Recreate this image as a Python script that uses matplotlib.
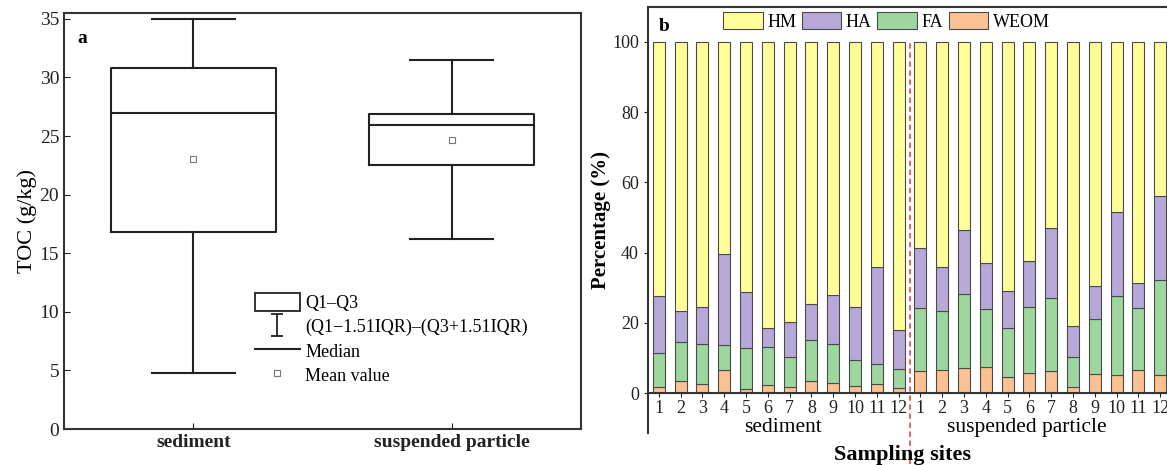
import matplotlib
matplotlib.use('Agg')
import matplotlib.pyplot as plt
import numpy as np
from matplotlib.patches import Patch
from matplotlib.lines import Line2D
from matplotlib.path import Path

plt.rcParams['font.family'] = ['Liberation Serif', 'DejaVu Serif']

# panel a: TOC box statistics (g/kg)
groups = ['sediment', 'suspended particle']
toc_whislo = [4.8, 16.2]
toc_q1 = [16.8, 22.5]
toc_med = [27.0, 25.9]
toc_q3 = [30.8, 26.9]
toc_whishi = [35.0, 31.5]
toc_mean = [23.0, 24.7]

# panel b: fraction percentages, sites 1-12 sediment then 1-12 suspended particle
site_labels = [str(i) for i in range(1, 13)] * 2
weom = [1.7, 3.6, 2.6, 6.6, 1.2, 2.4, 1.7, 3.5, 2.8, 2.2, 2.5, 1.6,
        6.2, 6.6, 7.3, 7.6, 4.7, 5.9, 6.4, 1.9, 5.4, 5.3, 6.6, 5.2]
fa = [9.7, 10.9, 11.5, 7.1, 11.7, 10.9, 8.6, 11.7, 11.3, 7.4, 5.9, 5.3,
      18.0, 16.8, 20.9, 16.3, 14.0, 18.7, 20.6, 8.3, 15.6, 22.4, 17.8, 27.0]
ha = [16.3, 8.9, 10.4, 25.9, 15.8, 5.2, 9.9, 10.1, 13.8, 15.0, 27.6, 11.1,
      17.0, 12.4, 18.2, 13.3, 10.3, 13.1, 20.1, 9.0, 9.5, 24.0, 7.0, 23.9]
hm = [72.3, 76.6, 75.5, 60.4, 71.3, 81.5, 79.8, 74.7, 72.1, 75.4, 64.0, 82.0,
      58.8, 64.2, 53.6, 62.8, 71.0, 62.3, 52.9, 80.8, 69.5, 48.3, 68.6, 43.9]

colors = {'HM': '#ffff99', 'HA': '#b7a8d8', 'FA': '#9dd79d', 'WEOM': '#fbc190'}
edge = '#4a4a4a'


def draw_box(ax):
    stats = []
    for i in range(len(groups)):
        stats.append(dict(whislo=toc_whislo[i], q1=toc_q1[i], med=toc_med[i],
                          q3=toc_q3[i], whishi=toc_whishi[i], mean=toc_mean[i],
                          fliers=[]))
    ax.bxp(stats, positions=[1, 2], widths=0.64, capwidths=0.32, showmeans=True,
           boxprops=dict(color='#222222', lw=1.5),
           whiskerprops=dict(color='#222222', lw=1.5),
           capprops=dict(color='#222222', lw=1.5),
           medianprops=dict(color='#222222', lw=1.5),
           meanprops=dict(marker='s', markersize=4, markerfacecolor='white',
                          markeredgecolor='#777777', markeredgewidth=0.8))
    ax.set_xlim(0.5, 2.5)
    ax.set_ylim(0, 35.5)
    ax.set_yticks(np.arange(0, 36, 5))
    ax.set_xticks([1, 2])
    ax.set_xticklabels(groups, fontweight='bold', fontsize=13)
    ax.tick_params(direction='in', labelsize=14, colors='#222222', length=4)
    ax.set_ylabel('TOC (g/kg)', fontsize=16, labelpad=2)
    for s in ax.spines.values():
        s.set_linewidth(1.5)
        s.set_color('#333333')
    ax.text(0.025, 0.96, 'a', transform=ax.transAxes, fontsize=14,
            fontweight='bold', va='top')

    cap = Path([(-0.5, 1), (0.5, 1), (0, 1), (0, -1), (-0.5, -1), (0.5, -1)],
               [Path.MOVETO, Path.LINETO, Path.MOVETO, Path.LINETO,
                Path.MOVETO, Path.LINETO])
    handles = [
        Patch(facecolor='white', edgecolor='#222222', lw=1.3),
        Line2D([], [], ls='none', marker=cap, markersize=16, color='#222222',
               markeredgewidth=1.3),
        Line2D([], [], color='#222222', lw=1.5),
        Line2D([], [], ls='none', marker='s', markersize=4,
               markerfacecolor='white', markeredgecolor='#777777',
               markeredgewidth=0.8),
    ]
    labels = ['Q1\u2013Q3', '(Q1\u22121.51IQR)\u2013(Q3+1.51IQR)', 'Median', 'Mean value']
    ax.legend(handles, labels, loc='upper left', bbox_to_anchor=(0.355, 0.345),
              frameon=False, fontsize=13, handlelength=2.5, handleheight=1.2,
              handletextpad=0.3, labelspacing=0.27, borderaxespad=0)


def draw_bars(ax):
    x = np.arange(1, len(site_labels) + 1)
    w = 0.55
    bottom = np.zeros(len(x))
    series = [('WEOM', weom), ('FA', fa), ('HA', ha), ('HM', hm)]
    for name, vals in series:
        ax.bar(x, vals, w, bottom=bottom, color=colors[name], edgecolor=edge,
               lw=0.8, label=name)
        bottom += np.array(vals)
    ax.set_xlim(0.5, 24.5)
    ax.set_ylim(-11.3, 109.9)
    ax.set_yticks(np.arange(0, 101, 20))
    ax.set_xticks(x)
    ax.set_xticklabels(site_labels)
    ax.spines['bottom'].set_position(('data', 0))
    ax.spines['right'].set_visible(False)
    for s in ax.spines.values():
        s.set_linewidth(1.5)
        s.set_color('#333333')
    ax.tick_params(axis='x', direction='out', length=3, labelsize=13,
                   colors='#222222', pad=2)
    ax.tick_params(axis='y', direction='out', length=3, labelsize=13,
                   colors='#222222')
    ax.vlines(12.5, -20, 100, colors='#e05a5a', linestyles=(0, (3, 2)), lw=1.3,
              clip_on=False)
    ax.text(6.7, -6.9, 'sediment', ha='center', va='top', fontsize=15.5)
    ax.text(17.9, -6.9, 'suspended particle', ha='center', va='top', fontsize=15.5)
    ax.text(12.2, -19.0, 'Sampling sites', ha='center', va='baseline',
            fontsize=16, fontweight='bold')
    ax.set_ylabel('Percentage (%)', fontsize=15, fontweight='bold', labelpad=1)
    ax.text(0.02, 0.975, 'b', transform=ax.transAxes, fontsize=14,
            fontweight='bold', va='top')
    h, l = ax.get_legend_handles_labels()
    ax.legend(h[::-1], l[::-1], ncol=4, loc='upper left',
              bbox_to_anchor=((723 - 648) / 523, 1 - 5 / 426), frameon=False,
              fontsize=13, handlelength=2.2, handleheight=1.05,
              handletextpad=0.25, columnspacing=0.3, borderaxespad=0,
              borderpad=0)


def main():
    fig = plt.figure(figsize=(11.67, 4.65), dpi=100)
    ax_a = fig.add_axes([64 / 1167, 36 / 465, 517 / 1167, 416 / 465])
    ax_b = fig.add_axes([648 / 1167, 32 / 465, 523 / 1167, 426 / 465])
    draw_box(ax_a)
    draw_bars(ax_b)
    fig.savefig('out.png', dpi=100)


if __name__ == '__main__':
    main()
